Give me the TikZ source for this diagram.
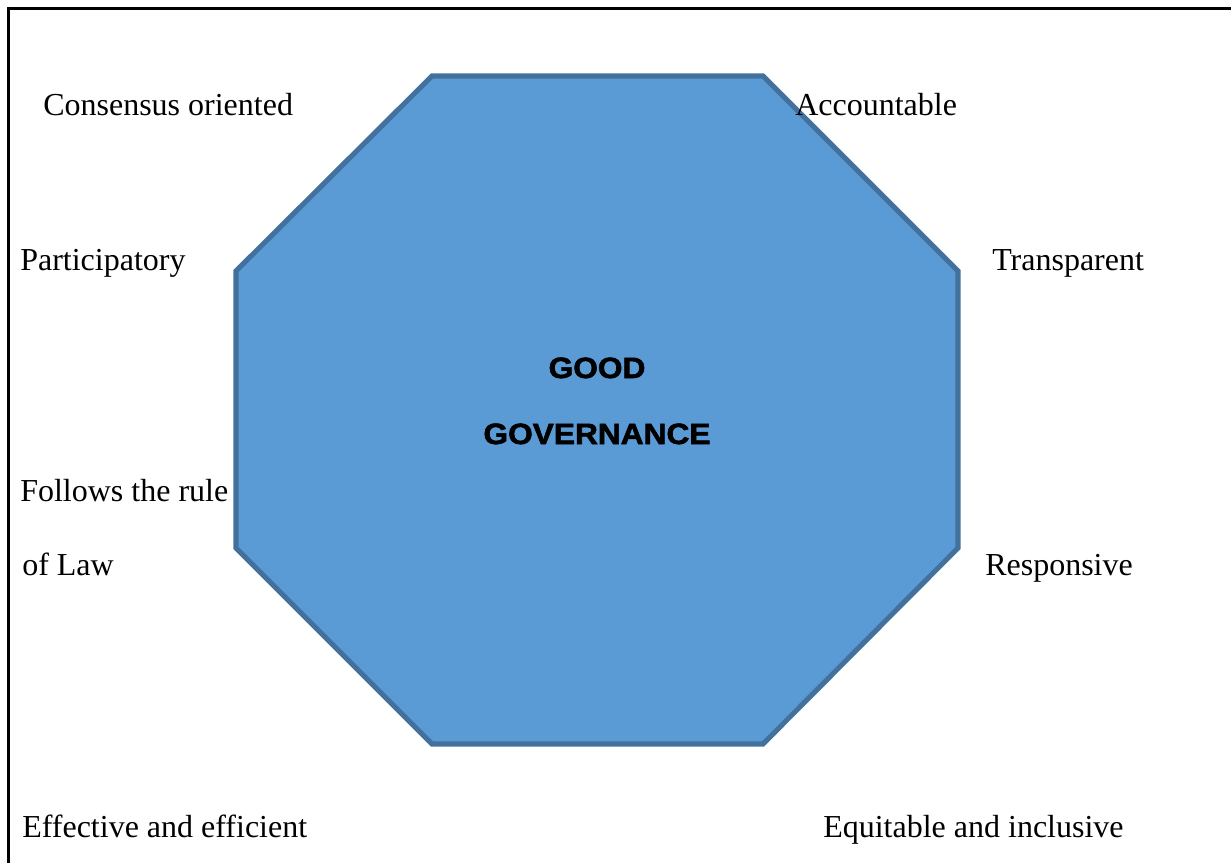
\documentclass[tikz,border=0pt]{standalone}
\usepackage{fontspec}
\setmainfont{Liberation Serif}
\newfontfamily\heavyfont{Liberation Sans}[BoldFeatures={FakeBold=2,FakeStretch=1.08}]
\definecolor{octfill}{HTML}{5B9BD5}
\definecolor{octline}{HTML}{41719C}
\begin{document}
\begin{tikzpicture}[x=0.75pt,y=-0.75pt,
  quality/.style={anchor=base west, inner sep=0pt, font=\fontsize{24}{28}\selectfont},
  title/.style={anchor=base, inner sep=0pt, font=\heavyfont\bfseries\fontsize{22}{26}\selectfont},
  octagon/.style={draw=octline, fill=octfill, line width=3.8pt, line join=miter}]
\useasboundingbox (0,0) rectangle (1231,863);

% outer frame (right and bottom sides run off the page)
\begin{scope}
  \clip (0,0) rectangle (1231,863);
  \draw[line width=2pt] (8.7,8.7) rectangle (1240,880);
\end{scope}

% central octagon
\coordinate (o1) at (432,76);
\coordinate (o2) at (763,76);
\coordinate (o3) at (958,271);
\coordinate (o4) at (958,548);
\coordinate (o5) at (763,744);
\coordinate (o6) at (432,744);
\coordinate (o7) at (236,548);
\coordinate (o8) at (236,271);
\draw[octagon] (o1) -- (o2) -- (o3) -- (o4) -- (o5) -- (o6) -- (o7) -- (o8) -- cycle;

\node[title] (good) at (597,378) {GOOD};
\node[title] (gov)  at (597,444) {GOVERNANCE};

% qualities around the octagon
\node[quality] (cons)  at (43,116)  {Consensus oriented};
\node[quality] (acc)   at (795,116) {Accountable};
\node[quality] (part)  at (20,270)  {Participatory};
\node[quality] (trans) at (992,270) {Transparent};
\node[quality] (foll)  at (20,501)  {Follows the rule};
\node[quality] (law)   at (22,575)  {of Law};
\node[quality] (resp)  at (985,575) {Responsive};
\node[quality] (eff)   at (22,837)  {Effective and efficient};
\node[quality] (equi)  at (823,837) {Equitable and inclusive};
\end{tikzpicture}
\end{document}
